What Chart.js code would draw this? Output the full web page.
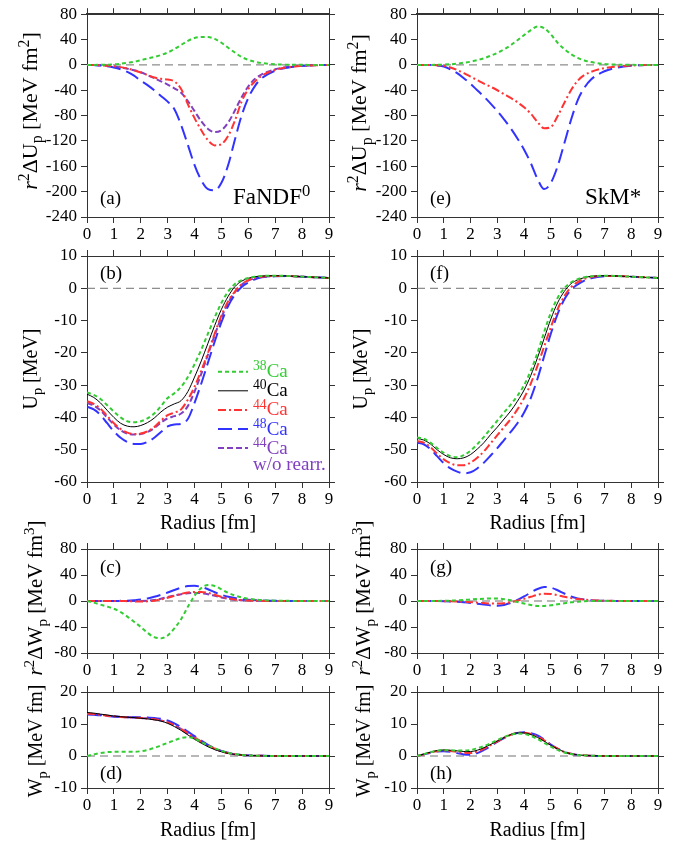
<!DOCTYPE html>
<html lang="en">
<head>
<meta charset="UTF-8">
<title>Proton optical potentials of Ca isotopes</title>
<script src="https://cdn.jsdelivr.net/npm/chart.js"></script>
<style>
  body { margin: 0; background: #fff; font-family: "Liberation Serif", "Times New Roman", Times, serif; }
  #wrap { position: relative; width: 683px; height: 843px; }
  canvas { position: absolute; }
  #fontprobe { position: absolute; left: -9999px; top: 0; font-size: 17px; }
</style>
</head>
<body>
<div id="fontprobe">Radius [fm] <i>r</i> 0123456789</div>
<div id="wrap">
  <canvas id="pa"></canvas><canvas id="pe"></canvas>
  <canvas id="pb"></canvas><canvas id="pf"></canvas>
  <canvas id="pc"></canvas><canvas id="pg"></canvas>
  <canvas id="pd"></canvas><canvas id="ph"></canvas>
</div>
<script>
// radius grid [fm]
const radius = [0,0.25,0.5,0.75,1,1.25,1.5,1.75,2,2.25,2.5,2.75,3,3.25,3.5,3.75,4,4.25,4.5,4.75,5,5.25,5.5,5.75,6,6.25,6.5,7,7.5,8,8.5,9];

// (a) r^2 dU_p, FaNDF0
const dUpFaNDF38 = [0,0,0.1,0.3,0.8,1.8,3.2,5,7.5,10,12.5,15.5,19.5,25,31.5,38,42.5,44,44,41,35,27,19.5,12.5,8,5,3,1,0.3,0.1,0,0];
const dUpFaNDF44 = [0,-0.2,-0.6,-1.2,-2,-3.5,-5.5,-8.5,-12,-16,-20,-22,-23,-26,-38,-62,-84,-103,-119,-127,-125,-112,-88,-58,-38,-26,-17,-8,-3.5,-1.5,-0.5,0];
const dUpFaNDF48 = [0,-0.3,-0.8,-2,-4,-7,-11,-17,-25,-32,-40,-49,-58,-70,-95,-126,-158,-182,-196,-198,-186,-158,-118,-80,-52,-33,-21,-9,-4,-1.5,-0.5,0];
const dUpFaNDF44noRearr = [0,-0.2,-0.6,-1.3,-2.5,-4,-6,-8.5,-11.5,-16,-21,-26,-31,-37,-44,-57,-73,-89,-101,-106,-103,-91,-72,-51,-34,-22,-15,-7,-3,-1.2,-0.4,0];
// (e) r^2 dU_p, SkM*
const dUpSkM38 = [0,0,0,0.2,0.5,1,2,3.5,5,7.5,10.5,14.5,19,24.5,31,39,47,55,60.5,58,48,35,25,17,11,7,4.5,1.5,0.4,0.1,0,0];
const dUpSkM44 = [0,0,-0.2,-0.6,-1.2,-4,-8,-13,-18.5,-24,-29.5,-34.5,-40,-46,-52,-59,-67,-77,-90,-100,-98,-81,-60,-40,-25,-16,-11,-5,-2.5,-1,-0.3,0];
const dUpSkM48 = [0,-0.1,-0.3,-1,-2.5,-7,-13,-21,-30,-40,-50,-61,-73,-86,-100,-116,-134,-155,-180,-196,-186,-160,-124,-87,-56,-36,-23,-10,-4,-1.2,-0.3,0];

// (b) U_p, FaNDF0
const upFaNDF38 = [-32.3,-33,-34.3,-36.2,-38.2,-40,-41.2,-41.5,-41.2,-40.3,-38.8,-36.5,-34,-32.5,-30.5,-27.5,-23.5,-19,-14,-9,-4.5,-1,1.3,2.5,3.2,3.6,3.8,3.9,3.8,3.6,3.4,3.2];
const upFaNDF40 = [-32.8,-33.8,-35.5,-37.8,-40,-41.8,-42.7,-42.9,-42.5,-41.6,-40.2,-38.3,-36.8,-35.8,-34.8,-32,-27.5,-22.5,-17,-11.5,-6.5,-2.5,0.5,2.2,3.1,3.6,3.8,3.9,3.8,3.6,3.4,3.2];
const upFaNDF44 = [-35,-35.8,-37.3,-39.5,-41.8,-43.6,-44.7,-45.1,-45,-44.3,-43,-41,-39.3,-38.5,-37.5,-34.5,-30.5,-25.5,-20,-14,-8.5,-4,-1,1.2,2.5,3.2,3.6,3.8,3.8,3.6,3.4,3.2];
const upFaNDF48 = [-36.7,-37.5,-39.2,-41.8,-44.3,-46.3,-47.6,-48.2,-48.2,-47.6,-46.3,-44.5,-42.8,-42.2,-42,-40.5,-35.5,-29.5,-23,-16.5,-10.5,-5.5,-2,0.4,1.8,2.8,3.4,3.7,3.8,3.6,3.4,3.2];
const upFaNDF44noRearr = [-35.5,-36.3,-37.8,-40,-42.2,-44,-45,-45.3,-45.1,-44.5,-43.3,-41.6,-40.3,-39.6,-38.8,-36.5,-32,-26.5,-20.5,-14.5,-9,-4.5,-1.2,1.1,2.4,3.1,3.5,3.8,3.8,3.6,3.4,3.2];
// (f) U_p, SkM*
const upSkM38 = [-46.2,-46.6,-47.8,-49.5,-51,-52,-52.3,-51.7,-50.3,-48.3,-46,-43.5,-41,-38.5,-36,-33.3,-30,-25.5,-20,-13.5,-7.5,-3,0,1.8,2.8,3.4,3.7,3.9,3.8,3.6,3.4,3.2];
const upSkM40 = [-46.5,-47,-48.2,-50,-51.5,-52.5,-52.8,-52.5,-51.5,-49.8,-47.8,-45.3,-43,-40.5,-38,-35,-31.5,-27,-21.5,-15.5,-9.5,-4.5,-1,1.4,2.6,3.3,3.7,3.9,3.8,3.6,3.4,3.2];
const upSkM44 = [-47.3,-47.8,-49.2,-51.2,-53,-54.2,-54.8,-54.8,-54,-52.5,-50.5,-48,-45.5,-43,-40.5,-37.5,-34,-29.5,-24,-18,-12,-6.5,-2.5,0.3,1.9,2.9,3.5,3.8,3.8,3.6,3.4,3.2];
const upSkM48 = [-47.8,-48.3,-49.8,-52,-54.2,-55.8,-56.8,-57.3,-57,-55.8,-54,-51.8,-49.5,-47,-44.5,-41.8,-38.5,-34,-28,-21,-14,-8,-3.5,-0.5,1.2,2.4,3.1,3.7,3.8,3.6,3.4,3.2];

// (c) r^2 dW_p, FaNDF0
const dWpFaNDF38 = [0,-2.5,-5.5,-8.5,-12,-17,-24,-32,-40,-49,-55.5,-57.5,-53,-42,-28,-9,8,20,24.5,23,18,12.5,8.5,5.5,3.5,2.2,1.4,0.5,0.2,0,0,0];
const dWpFaNDF44 = [0,0,0,0,0,0,-0.3,-0.6,-0.8,-0.5,0.5,2.5,5,8,11,13,14,14,12.5,9.5,6.5,4,2.3,1.3,0.7,0.4,0.2,0,0,0,0,0];
const dWpFaNDF48 = [0,0,0,0,0,0.2,0.5,1.2,2.2,4,6.5,9.5,13,17,20.5,23,23.5,21.5,18,13.5,9.5,6.5,4.5,3,2,1.3,0.8,0.3,0.1,0,0,0];
const dWpFaNDF44noRearr = [0,0,0,0,0,0,0,0,0,0.3,1.5,3.5,6,8.5,10.5,12,12.5,12,10.5,8,5.5,3.5,2,1.2,0.6,0.3,0.2,0,0,0,0,0];
// (g) r^2 dW_p, SkM*
const dWpSkM38 = [0,0,0,0.1,0.3,0.6,1,1.6,2.3,3,3.6,4,3.8,2.8,1,-1.5,-4,-6,-7.5,-7.5,-6.5,-5,-3.5,-2,-1,-0.4,0,0.2,0.1,0,0,0];
const dWpSkM44 = [0,0,0,-0.1,-0.2,-0.4,-0.7,-1.2,-1.8,-2.5,-3.2,-3.8,-4,-3.3,-1.8,0.5,3.5,6.5,9.5,11.2,10.8,9,6.5,4.5,3,2,1.2,0.4,0.1,0,0,0];
const dWpSkM48 = [0,0,0,-0.1,-0.3,-0.6,-1.2,-2,-3,-4.2,-5.5,-6.8,-7.2,-6,-3,1.5,7,13,18.5,21.5,20.5,16.5,11.5,7,4,2.2,1.2,0.4,0.1,0,0,0];

// (d) W_p, FaNDF0
const wpFaNDF38 = [0,0.5,0.9,1.2,1.3,1.3,1.3,1.3,1.5,1.9,2.5,3.3,4.1,4.9,5.6,5.9,5.4,4.4,3.3,2.4,1.6,1,0.6,0.35,0.2,0.1,0.05,0,0,0,0,0];
const wpFaNDF40 = [13.6,13.4,13.1,12.8,12.5,12.3,12.1,12,11.8,11.6,11.3,10.9,10.2,9.2,8,6.6,5.2,4,2.9,2,1.3,0.8,0.5,0.3,0.15,0.1,0.05,0,0,0,0,0];
const wpFaNDF44 = [13.2,13.1,12.9,12.6,12.4,12.2,12.1,12,11.9,11.7,11.5,11.1,10.5,9.6,8.5,7.1,5.8,4.5,3.3,2.3,1.5,0.9,0.55,0.3,0.2,0.1,0.05,0,0,0,0,0];
const wpFaNDF48 = [13,12.9,12.7,12.5,12.3,12.2,12.1,12.1,12.1,12,11.9,11.6,11.1,10.2,9,7.6,6.2,4.8,3.5,2.4,1.6,1,0.6,0.35,0.2,0.1,0.05,0,0,0,0,0];
const wpFaNDF44noRearr = [13.1,13,12.8,12.6,12.4,12.2,12.1,12,11.9,11.7,11.5,11.1,10.5,9.6,8.4,7,5.7,4.4,3.2,2.2,1.5,0.9,0.55,0.3,0.2,0.1,0.05,0,0,0,0,0];
// (h) W_p, SkM*
const wpSkM38 = [0,0.6,1.2,1.6,1.8,1.8,1.7,1.7,1.9,2.4,3.1,4,5,5.9,6.6,7,6.9,6.3,5.3,4.1,2.9,1.9,1.1,0.6,0.3,0.15,0.1,0,0,0,0,0];
const wpSkM40 = [0,0.6,1.2,1.7,1.9,1.8,1.6,1.4,1.4,1.8,2.6,3.6,4.7,5.8,6.7,7.2,7.2,6.7,5.8,4.6,3.3,2.2,1.3,0.7,0.35,0.2,0.1,0,0,0,0,0];
const wpSkM44 = [0,0.5,1.1,1.5,1.7,1.6,1.3,1,0.9,1.4,2.3,3.4,4.6,5.7,6.6,7.2,7.3,6.9,6.1,4.9,3.5,2.3,1.3,0.7,0.35,0.2,0.1,0,0,0,0,0];
const wpSkM48 = [0,0.5,1,1.4,1.5,1.3,0.9,0.5,0.4,0.9,1.9,3.1,4.4,5.6,6.6,7.2,7.4,7.1,6.4,5.1,3.6,2.3,1.3,0.7,0.35,0.2,0.1,0,0,0,0,0];

// axis ranges [min, max, step]
const xRange = [0, 9, 1];
const yRangeDU = [-240, 80, 40];
const yRangeU = [-60, 10, 10];
const yRangeDW = [-80, 80, 40];
const yRangeW = [-10, 20, 10];

// legend texts
const legendKeys = ['ca38', 'ca40', 'ca44', 'ca48', 'ca44n'];
const legendMass = ['38', '40', '44', '48', '44'];
const legendNote = 'w/o rearr.';

const FONT = '"Liberation Serif", "Times New Roman", Times, serif';
const AXIS = '#333';
const style = {
  ca38:  { color: '#33cc33', width: 2,   dash: [4, 3] },
  ca40:  { color: '#000000', width: 1,   dash: [] },
  ca44:  { color: '#ff3333', width: 2,   dash: [8, 3, 2, 3] },
  ca48:  { color: '#3333ff', width: 2,   dash: [14, 6] },
  ca44n: { color: '#8040c0', width: 2,   dash: [6, 3] }
};

const titleDU = [{t: 'r', i: 1}, {t: '2', s: 'sup'}, {t: '\u0394U'}, {t: 'p', s: 'sub'}, {t: ' [MeV fm'}, {t: '2', s: 'sup'}, {t: ']'}];
const titleU  = [{t: 'U'}, {t: 'p', s: 'sub'}, {t: ' [MeV]'}];
const titleDW = [{t: 'r', i: 1}, {t: '2', s: 'sup'}, {t: '\u0394W'}, {t: 'p', s: 'sub'}, {t: ' [MeV fm'}, {t: '3', s: 'sup'}, {t: ']'}];
const titleW  = [{t: 'W'}, {t: 'p', s: 'sub'}, {t: ' [MeV fm]'}];

// page layout: canvas box [x, y, w, h], plot area [left, top, right, bottom]
const panels = [
  { id: 'pa', box: [0, 0, 341, 250], area: [87, 11, 329, 217], yr: yRangeDU, topW: 2,
    tag: ['(a)', 100, 204], model: [{t: 'FaNDF'}, {t: '0', s: 'sup'}], modelPos: [233, 204],
    yTitle: titleDU, yTitleSize: 22, yTitlePos: [36.5, 111],
    lines: [['ca38', dUpFaNDF38], ['ca44', dUpFaNDF44], ['ca48', dUpFaNDF48], ['ca44n', dUpFaNDF44noRearr]] },
  { id: 'pe', box: [341, 0, 342, 250], area: [417, 11, 658, 217], yr: yRangeDU, topW: 2,
    tag: ['(e)', 430, 204], model: [{t: 'SkM*'}], modelPos: [585, 204],
    yTitle: titleDU, yTitleSize: 22, yTitlePos: [366, 113],
    lines: [['ca38', dUpSkM38], ['ca44', dUpSkM44], ['ca48', dUpSkM48]] },
  { id: 'pb', box: [0, 236, 341, 300], area: [87, 256, 329, 482], yr: yRangeU, topW: 1,
    tag: ['(b)', 100, 279], yTitle: titleU, yTitleSize: 20, yTitlePos: [36.7, 369], xTitle: [208, 529], legend: true,
    lines: [['ca38', upFaNDF38], ['ca40', upFaNDF40], ['ca44', upFaNDF44], ['ca48', upFaNDF48], ['ca44n', upFaNDF44noRearr]] },
  { id: 'pf', box: [341, 236, 342, 300], area: [417, 256, 658, 482], yr: yRangeU, topW: 1,
    tag: ['(f)', 430, 279], yTitle: titleU, yTitleSize: 20, yTitlePos: [366.7, 369], xTitle: [537.5, 529],
    lines: [['ca38', upSkM38], ['ca40', upSkM40], ['ca44', upSkM44], ['ca48', upSkM48]] },
  { id: 'pc', box: [0, 490, 341, 200], area: [87, 549, 329, 653], yr: yRangeDW, topW: 1,
    tag: ['(c)', 100, 573], yTitle: titleDW, yTitleSize: 21, yTitlePos: [41.5, 598],
    lines: [['ca38', dWpFaNDF38], ['ca44', dWpFaNDF44], ['ca48', dWpFaNDF48], ['ca44n', dWpFaNDF44noRearr]] },
  { id: 'pg', box: [341, 490, 342, 200], area: [417, 549, 658, 653], yr: yRangeDW, topW: 1,
    tag: ['(g)', 430, 573], yTitle: titleDW, yTitleSize: 21, yTitlePos: [370, 598],
    lines: [['ca38', dWpSkM38], ['ca44', dWpSkM44], ['ca48', dWpSkM48]] },
  { id: 'pd', box: [0, 660, 341, 183], area: [87, 692, 329, 788], yr: yRangeW, topW: 1,
    tag: ['(d)', 100, 779], yTitle: titleW, yTitleSize: 20, yTitlePos: [41.7, 741], xTitle: [208, 836],
    lines: [['ca38', wpFaNDF38], ['ca40', wpFaNDF40], ['ca44', wpFaNDF44], ['ca48', wpFaNDF48], ['ca44n', wpFaNDF44noRearr]] },
  { id: 'ph', box: [341, 660, 342, 183], area: [417, 692, 658, 788], yr: yRangeW, topW: 1,
    tag: ['(h)', 430, 779], yTitle: titleW, yTitleSize: 20, yTitlePos: [370, 741], xTitle: [537.5, 836],
    lines: [['ca38', wpSkM38], ['ca40', wpSkM40], ['ca44', wpSkM44], ['ca48', wpSkM48]] }
];

// --- rich text (super/subscripts) on the canvas ---
function segSize(seg, size) { return seg.s ? size * 0.72 : size; }
function setFont(ctx, size, italic) { ctx.font = (italic ? 'italic ' : '') + size + 'px ' + FONT; }
function richWidth(ctx, segs, size) {
  let w = 0;
  segs.forEach(seg => { setFont(ctx, segSize(seg, size), seg.i); w += ctx.measureText(seg.t).width; });
  return w;
}
function drawRich(ctx, segs, x, y, size, color) {
  ctx.fillStyle = color;
  ctx.textAlign = 'left';
  ctx.textBaseline = 'alphabetic';
  segs.forEach(seg => {
    setFont(ctx, segSize(seg, size), seg.i);
    const dy = seg.s === 'sup' ? -size * 0.36 : seg.s === 'sub' ? size * 0.25 : 0;
    ctx.fillText(seg.t, x, y + dy);
    x += ctx.measureText(seg.t).width;
  });
}

function decor(p) {
  return {
    id: 'decor',
    afterDraw(chart) {
      const ctx = chart.ctx;
      const ox = p.box[0], oy = p.box[1];
      ctx.save();
      // y title, rotated
      ctx.save();
      ctx.translate(p.yTitlePos[0] - ox, p.yTitlePos[1] - oy);
      ctx.rotate(-Math.PI / 2);
      drawRich(ctx, p.yTitle, -richWidth(ctx, p.yTitle, p.yTitleSize) / 2, 0, p.yTitleSize, '#000');
      ctx.restore();
      // x title
      if (p.xTitle) {
        const segs = [{t: 'Radius [fm]'}];
        drawRich(ctx, segs, p.xTitle[0] - ox - richWidth(ctx, segs, 20) / 2, p.xTitle[1] - oy, 20, '#000');
      }
      // panel tag and model name
      drawRich(ctx, [{t: p.tag[0]}], p.tag[1] - ox, p.tag[2] - oy, 19, '#000');
      if (p.model) drawRich(ctx, p.model, p.modelPos[0] - ox, p.modelPos[1] - oy, 23, '#000');
      // legend
      if (p.legend) {
        legendKeys.forEach((key, k) => {
          const st = style[key];
          const y = 371.7 + k * 19.1 - oy;
          ctx.strokeStyle = st.color;
          ctx.lineWidth = st.width;
          ctx.setLineDash(st.dash);
          ctx.beginPath();
          ctx.moveTo(218 - ox, y);
          ctx.lineTo(248 - ox, y);
          ctx.stroke();
          drawRich(ctx, [{t: legendMass[k], s: 'sup'}, {t: 'Ca'}], 253 - ox, y + 5.5, 19, st.color);
        });
        ctx.setLineDash([]);
        drawRich(ctx, [{t: legendNote}], 253 - ox, 470 - oy, 19, style.ca44n.color);
      }
      ctx.restore();
    }
  };
}

function axisCfg(pos, range, labels, fit, borderW) {
  const horizontal = pos === 'top' || pos === 'bottom';
  return {
    type: 'linear', position: pos, min: range[0], max: range[1],
    ticks: {
      display: labels, stepSize: range[2], autoSkip: false, maxRotation: 0,
      color: '#000', font: { family: FONT, size: 17 }, padding: horizontal ? 1 : 4
    },
    grid: { drawOnChartArea: false, drawTicks: true, tickLength: 6, color: AXIS, lineWidth: 1 },
    border: { display: true, color: AXIS, width: borderW },
    afterFit: s => { if (horizontal) s.height = fit; else s.width = fit; }
  };
}

function build() {
  Chart.defaults.font.family = FONT;
  panels.forEach(p => {
    const cv = document.getElementById(p.id);
    const [bx, by, bw, bh] = p.box;
    const [L, T, R, B] = p.area;
    cv.width = bw; cv.height = bh;
    cv.style.left = bx + 'px'; cv.style.top = by + 'px';

    const datasets = p.lines.map(([key, vals]) => ({
      data: radius.map((r, i) => ({ x: r, y: vals[i] })),
      xAxisID: 'x', yAxisID: 'y',
      borderColor: style[key].color, borderWidth: style[key].width, borderDash: style[key].dash,
      pointRadius: 0, fill: false, cubicInterpolationMode: 'monotone'
    }));
    // dashed zero line
    datasets.push({
      data: [{ x: xRange[0], y: 0 }, { x: xRange[1], y: 0 }], xAxisID: 'x', yAxisID: 'y',
      borderColor: '#707070', borderWidth: 1, borderDash: [8, 5], pointRadius: 0, order: 10
    });

    new Chart(cv, {
      type: 'line',
      data: { datasets },
      options: {
        responsive: false, animation: false, devicePixelRatio: 1,
        layout: { padding: 0, autoPadding: false },
        plugins: { legend: { display: false }, tooltip: { enabled: false } },
        scales: {
          x:  axisCfg('bottom', xRange, true, by + bh - B, 1),
          x2: axisCfg('top', xRange, false, T - by, p.topW),
          y:  axisCfg('left', p.yr, true, L - bx, 1),
          y2: axisCfg('right', p.yr, false, bx + bw - R, 1)
        }
      },
      plugins: [decor(p)]
    });
  });
}

Promise.all([
  document.fonts.load('17px "Liberation Serif"'),
  document.fonts.load('italic 17px "Liberation Serif"')
]).then(build, build);
</script>
</body>
</html>
